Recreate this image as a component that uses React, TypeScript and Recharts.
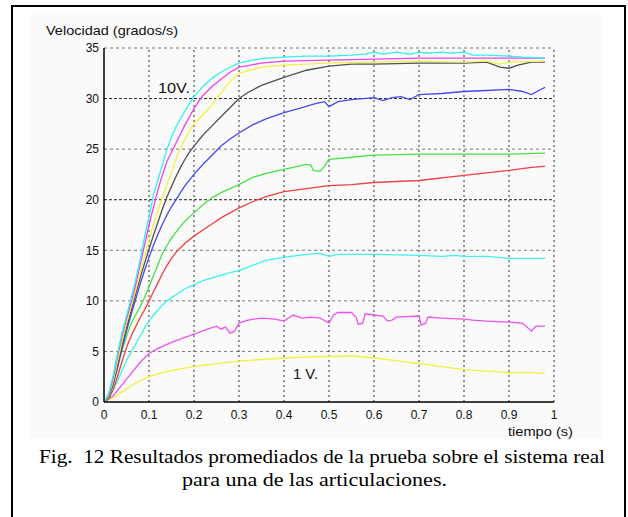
import React from 'react';
import { LineChart, Line, XAxis, YAxis, ReferenceLine } from 'recharts';

const xTicks = [0, 0.1, 0.2, 0.3, 0.4, 0.5, 0.6, 0.7, 0.8, 0.9, 1];
const yTicks = [0, 5, 10, 15, 20, 25, 30, 35];

// [tiempo (s), velocidad (grados/s)]
const v10Cyan: [number, number][] = [[0,0],[0.01,0.8],[0.02,2.5],[0.03,4.8],[0.04,6.8],[0.05,8.5],[0.06,10.2],[0.07,12],[0.08,14],[0.09,16.3],[0.1,18.3],[0.11,20.5],[0.12,22],[0.13,23.5],[0.14,25],[0.15,26.2],[0.16,27.2],[0.17,28],[0.18,28.8],[0.19,29.5],[0.2,30.2],[0.22,31.2],[0.24,32],[0.26,32.6],[0.28,33.1],[0.3,33.5],[0.33,33.8],[0.36,34],[0.4,34.1],[0.45,34.2],[0.5,34.2],[0.55,34.3],[0.58,34.4],[0.6,34.6],[0.62,34.4],[0.65,34.6],[0.68,34.4],[0.7,34.6],[0.72,34.5],[0.75,34.6],[0.77,34.5],[0.8,34.6],[0.82,34.3],[0.85,34.3],[0.9,34.2],[0.93,34.1],[0.98,34.0]];
const v9Magenta: [number, number][] = [[0,0],[0.01,0.7],[0.02,2.3],[0.03,4.5],[0.04,6.5],[0.05,8.2],[0.06,9.8],[0.07,11.5],[0.08,13.5],[0.09,15.5],[0.1,17.5],[0.11,19.3],[0.12,21],[0.13,22.5],[0.14,23.8],[0.15,24.7],[0.16,25.6],[0.17,26.5],[0.18,27.4],[0.19,28.2],[0.2,29],[0.21,29.7],[0.22,30.3],[0.24,31.2],[0.26,31.9],[0.28,32.6],[0.3,33.1],[0.35,33.5],[0.4,33.7],[0.5,33.8],[0.6,33.9],[0.7,34],[0.8,34],[0.9,34],[0.98,34.0]];
const v8Yellow: [number, number][] = [[0,0],[0.01,0.6],[0.02,2],[0.03,4],[0.04,6],[0.05,7.8],[0.06,9.4],[0.07,11],[0.08,12.7],[0.09,14.4],[0.1,16],[0.11,17.5],[0.12,18.9],[0.13,20.3],[0.14,21.5],[0.15,22.7],[0.16,24],[0.17,25.1],[0.18,26],[0.19,26.8],[0.2,27.5],[0.22,28.4],[0.24,29.4],[0.25,30],[0.28,31.7],[0.3,32.5],[0.35,33.1],[0.4,33.3],[0.5,33.5],[0.6,33.6],[0.7,33.7],[0.8,33.6],[0.85,33.7],[0.88,33.4],[0.9,33.6],[0.98,33.7]];
const v7Black: [number, number][] = [[0,0],[0.01,0.5],[0.02,1.8],[0.03,3.6],[0.04,5.6],[0.05,7.3],[0.06,9],[0.07,10.6],[0.08,12.2],[0.09,13.7],[0.1,15.1],[0.11,16.5],[0.12,17.8],[0.13,19.1],[0.14,20.3],[0.15,21.3],[0.16,22.3],[0.17,23.2],[0.18,24],[0.19,24.7],[0.2,25.3],[0.22,26.4],[0.24,27.3],[0.26,28.2],[0.28,29.1],[0.3,30],[0.32,30.6],[0.35,31.3],[0.4,32.1],[0.45,32.8],[0.5,33.2],[0.55,33.4],[0.6,33.4],[0.7,33.5],[0.8,33.5],[0.85,33.6],[0.88,33.1],[0.9,33.0],[0.92,33.3],[0.95,33.6],[0.98,33.6]];
const v6Blue: [number, number][] = [[0,0],[0.01,0.5],[0.02,1.7],[0.03,3.4],[0.04,5.3],[0.05,7],[0.06,8.6],[0.07,10.1],[0.08,11.6],[0.09,13],[0.1,14.3],[0.11,15.5],[0.12,16.6],[0.13,17.6],[0.14,18.5],[0.15,19.3],[0.16,20],[0.17,20.7],[0.18,21.4],[0.2,22.5],[0.22,23.5],[0.24,24.4],[0.26,25.3],[0.28,26],[0.3,26.6],[0.33,27.4],[0.36,28],[0.4,28.6],[0.44,29.1],[0.47,29.5],[0.49,29.7],[0.5,29.2],[0.52,29.7],[0.55,29.9],[0.6,30.1],[0.62,29.8],[0.64,30.1],[0.66,30.2],[0.68,29.9],[0.7,30.4],[0.75,30.5],[0.8,30.7],[0.85,30.8],[0.9,30.9],[0.93,30.7],[0.95,30.4],[0.97,30.9],[0.98,31.1]];
const v5Green: [number, number][] = [[0,0],[0.01,0.4],[0.02,1.6],[0.03,3.4],[0.04,5.1],[0.05,6.5],[0.06,7.7],[0.07,8.6],[0.08,9.4],[0.09,10.3],[0.1,11.4],[0.11,12.5],[0.12,13.6],[0.13,14.7],[0.14,15.5],[0.15,16.2],[0.16,16.8],[0.18,17.9],[0.2,18.7],[0.22,19.5],[0.24,20.2],[0.26,20.7],[0.28,21.1],[0.3,21.5],[0.33,22.2],[0.36,22.6],[0.4,23],[0.43,23.3],[0.45,23.5],[0.46,23.4],[0.465,22.9],[0.48,22.8],[0.49,23.3],[0.5,24],[0.55,24.2],[0.6,24.4],[0.7,24.5],[0.8,24.5],[0.9,24.5],[0.98,24.6]];
const v4Red: [number, number][] = [[0,0],[0.01,0.3],[0.02,1.2],[0.03,2.5],[0.04,4],[0.05,5.4],[0.06,6.5],[0.07,7.4],[0.08,8.3],[0.09,9.1],[0.1,10],[0.11,10.9],[0.12,11.8],[0.13,12.7],[0.14,13.5],[0.15,14.2],[0.16,14.8],[0.18,15.7],[0.2,16.4],[0.22,17],[0.24,17.6],[0.26,18.2],[0.28,18.7],[0.3,19.2],[0.33,19.8],[0.36,20.3],[0.4,20.8],[0.45,21.1],[0.5,21.4],[0.55,21.5],[0.6,21.7],[0.7,21.9],[0.8,22.4],[0.9,22.9],[0.95,23.2],[0.98,23.3]];
const v3Cyan: [number, number][] = [[0,0],[0.01,0.3],[0.02,1.1],[0.03,2.1],[0.04,3.1],[0.05,4.1],[0.06,4.9],[0.07,5.7],[0.08,6.5],[0.09,7.3],[0.1,8],[0.11,8.6],[0.12,9.1],[0.13,9.6],[0.14,10],[0.16,10.6],[0.18,11.2],[0.2,11.6],[0.22,12],[0.25,12.4],[0.28,12.8],[0.3,13.0],[0.33,13.5],[0.36,14],[0.4,14.3],[0.45,14.6],[0.48,14.7],[0.5,14.4],[0.52,14.6],[0.55,14.6],[0.6,14.6],[0.7,14.5],[0.75,14.4],[0.78,14.5],[0.8,14.4],[0.85,14.4],[0.9,14.2],[0.98,14.2]];
const v2Magenta: [number, number][] = [[0,0],[0.02,0.6],[0.04,1.7],[0.06,2.8],[0.08,3.9],[0.1,4.8],[0.12,5.3],[0.15,5.9],[0.18,6.4],[0.2,6.7],[0.23,7.2],[0.25,7.5],[0.26,7.2],[0.27,7.4],[0.28,6.8],[0.29,7.0],[0.3,7.8],[0.32,8.1],[0.35,8.3],[0.38,8.2],[0.4,8.0],[0.42,8.6],[0.44,8.3],[0.46,8.4],[0.48,8.3],[0.5,7.8],[0.51,8.6],[0.52,8.85],[0.55,8.85],[0.56,8.4],[0.565,7.7],[0.575,7.8],[0.58,8.7],[0.6,8.6],[0.62,8.5],[0.63,8.0],[0.64,8.1],[0.65,8.4],[0.7,8.5],[0.705,7.6],[0.715,7.8],[0.72,8.4],[0.75,8.3],[0.8,8.2],[0.82,8.1],[0.85,8.0],[0.9,7.9],[0.93,7.8],[0.95,7.0],[0.96,7.5],[0.98,7.5]];
const v1Yellow: [number, number][] = [[0,0],[0.02,0.4],[0.04,1.0],[0.06,1.6],[0.08,2.1],[0.1,2.5],[0.13,2.9],[0.16,3.2],[0.2,3.5],[0.25,3.8],[0.3,4.05],[0.35,4.2],[0.4,4.35],[0.45,4.45],[0.5,4.5],[0.55,4.55],[0.6,4.35],[0.65,4.1],[0.7,3.8],[0.75,3.5],[0.8,3.2],[0.85,3.05],[0.9,2.9],[0.95,2.9],[0.98,2.8]];

const seriesList = [
  { key: 'v1', pts: v1Yellow, color: '#F2F23C' },
  { key: 'v2', pts: v2Magenta, color: '#F050F0' },
  { key: 'v3', pts: v3Cyan, color: '#40F0F0' },
  { key: 'v4', pts: v4Red, color: '#F04040' },
  { key: 'v5', pts: v5Green, color: '#48E048' },
  { key: 'v6', pts: v6Blue, color: '#4848F0' },
  { key: 'v7', pts: v7Black, color: '#505050' },
  { key: 'v8', pts: v8Yellow, color: '#F2F23C' },
  { key: 'v9', pts: v9Magenta, color: '#F040F0' },
  { key: 'v10', pts: v10Cyan, color: '#30F0F0' },
];

const gridY = [5, 10, 15, 20, 25, 30, 35];
const gridX = [0.1, 0.2, 0.3, 0.4, 0.5, 0.6, 0.7, 0.8, 0.9, 1];

const sans = 'Liberation Sans, Arial, sans-serif';
const serif = 'Liberation Serif, Times New Roman, serif';

export default function App() {
  return (
    <div style={{ position: 'absolute', left: 0, top: 0, width: 628, height: 517, background: '#fff', overflow: 'hidden' }}>
      <div style={{ position: 'absolute', left: 30, top: 13, width: 572, height: 425, background: '#FAFAFA' }} />
      <div style={{ position: 'absolute', left: 11, top: 5, width: 615, height: 530, border: '2px solid #000', boxSizing: 'border-box' }} />
      <div style={{ position: 'absolute', left: 0, top: 0 }}>
        <LineChart width={628} height={517} margin={{ top: 48, right: 74, bottom: 85, left: 54 }}>
          {gridY.map((y) => (
            <ReferenceLine key={'gy' + y} y={y} stroke={y === 20 || y === 30 ? '#222' : '#777'} strokeDasharray={y === 20 || y === 30 ? '3 2' : '3 3'} strokeWidth={1} />
          ))}
          {gridX.map((x) => (
            <ReferenceLine key={'gx' + x} x={x} stroke="#333" strokeDasharray="2 3" strokeWidth={1} />
          ))}
          <XAxis
            dataKey="t"
            type="number"
            domain={[0, 1]}
            ticks={xTicks}
            allowDataOverflow
            axisLine={{ stroke: '#000', strokeWidth: 1.5 }}
            tickLine={false}
            tickSize={4}
            tickMargin={4}
            tick={{ fill: '#111', fontSize: 12, fontFamily: sans }}
            height={30}
          />
          <YAxis
            dataKey="v"
            type="number"
            domain={[0, 35]}
            ticks={yTicks}
            allowDataOverflow
            axisLine={{ stroke: '#000', strokeWidth: 1.5 }}
            tickLine={false}
            tickSize={3}
            tickMargin={2}
            tick={{ fill: '#111', fontSize: 12, fontFamily: sans }}
            width={50}
          />
          {seriesList.map((s) => (
            <Line
              key={s.key}
              data={s.pts.map(([t, v]) => ({ t, v }))}
              dataKey="v"
              type="linear"
              stroke={s.color}
              strokeWidth={1.3}
              dot={false}
              isAnimationActive={false}
            />
          ))}
        </LineChart>
      </div>
      <svg width={628} height={517} style={{ position: 'absolute', left: 0, top: 0, pointerEvents: 'none' }}>
        <text x={46} y={34.5} fontFamily={sans} fontSize={13.5} fill="#111" textLength={132} lengthAdjust="spacingAndGlyphs">Velocidad (grados/s)</text>
        <text x={508} y={436} fontFamily={sans} fontSize={12.5} fill="#111" textLength={65} lengthAdjust="spacingAndGlyphs">tiempo (s)</text>
        <text x={158} y={92.5} fontFamily={sans} fontSize={14.5} fill="#111" textLength={32} lengthAdjust="spacingAndGlyphs">10V.</text>
        <text x={293} y={378.5} fontFamily={sans} fontSize={14} fill="#111" textLength={25} lengthAdjust="spacingAndGlyphs">1 V.</text>
        <text x={39} y={463} fontFamily={serif} fontSize={19} fill="#000" xmlSpace="preserve" textLength={566} lengthAdjust="spacingAndGlyphs">Fig.  12 Resultados promediados de la prueba sobre el sistema real</text>
        <text x={182} y={486} fontFamily={serif} fontSize={19} fill="#000" textLength={265} lengthAdjust="spacingAndGlyphs">para una de las articulaciones.</text>
      </svg>
    </div>
  );
}
